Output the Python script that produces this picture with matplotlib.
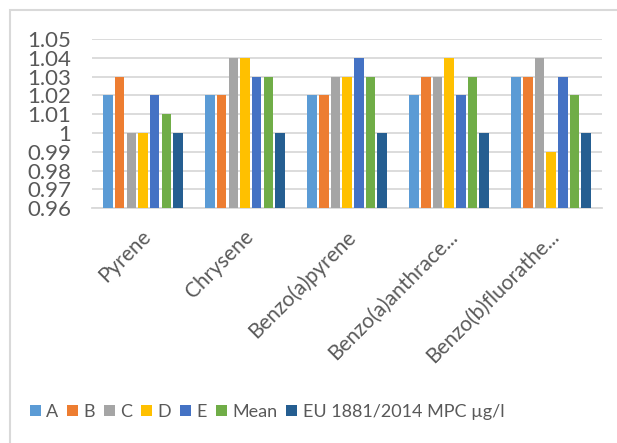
import matplotlib
matplotlib.use("Agg")
import matplotlib.pyplot as plt
import matplotlib.transforms as mtransforms
import numpy as np
from matplotlib.patches import Rectangle

categories = ["Pyrene", "Chrysene", "Benzo(a)pyrene", "Benzo(a)anthrace...", "Benzo(b)fluorathe..."]
series_names = ["A", "B", "C", "D", "E", "Mean", "EU 1881/2014 MPC µg/l"]
A = [1.02, 1.02, 1.02, 1.02, 1.03]
B = [1.03, 1.02, 1.02, 1.03, 1.03]
C = [1.00, 1.04, 1.03, 1.03, 1.04]
D = [1.00, 1.04, 1.03, 1.04, 0.99]
E = [1.02, 1.03, 1.04, 1.02, 1.03]
mean = [1.01, 1.03, 1.03, 1.03, 1.02]
eu_mpc = [1.00, 1.00, 1.00, 1.00, 1.00]
yticks = [0.96, 0.97, 0.98, 0.99, 1.00, 1.01, 1.02, 1.03, 1.04, 1.05]
ytick_labels = ["0.96", "0.97", "0.98", "0.99", "1", "1.01", "1.02", "1.03", "1.04", "1.05"]

colors = ["#5B9BD5", "#ED7D31", "#A5A5A5", "#FFC000", "#4472C4", "#70AD47", "#255E91"]
plt.rcParams["font.family"] = ["Lato", "DejaVu Sans"]

fig = plt.figure(figsize=(6.17, 4.43), dpi=100)
ax = fig.add_axes([0.149, 0.530, 0.827, 0.382])

# chart-area border (left and top edges visible)
fig.add_artist(Rectangle((10 / 617, -0.1), 1.2, (443 - 10) / 443 + 0.1,
                         transform=fig.transFigure, fill=False,
                         edgecolor="#d9d9d9", lw=1.5))

x = np.arange(len(categories))
data = [A, B, C, D, E, mean, eu_mpc]
n = len(data)
group_w = 0.8
slot = group_w / n
for i, (vals, name, col) in enumerate(zip(data, series_names, colors)):
    pos = x - group_w / 2 + slot * (i + 0.5)
    ax.bar(pos, vals, width=slot * 0.82, color=col, label=name, zorder=3)

ax.set_xlim(-0.5, len(categories) - 0.5)
ax.set_ylim(0.96, 1.05)
ax.set_yticks(yticks)
ax.set_yticklabels(ytick_labels)
ax.yaxis.grid(True, color="#d9d9d9", lw=1.3, zorder=0)
ax.set_axisbelow(True)
for s in ["top", "right", "left"]:
    ax.spines[s].set_visible(False)
ax.spines["bottom"].set_color("#d9d9d9")
ax.spines["bottom"].set_linewidth(1.3)
ax.tick_params(axis="both", length=0, labelcolor="#595959")
ax.tick_params(axis="y", labelsize=16, pad=15)
ax.set_xticks(x)
ax.set_xticklabels(categories, rotation=45, ha="right", rotation_mode="anchor")
ax.tick_params(axis="x", labelsize=15, pad=13)
shift = mtransforms.ScaledTranslation(-1.5 / 72, 0, fig.dpi_scale_trans)
for lbl in ax.get_xticklabels():
    lbl.set_transform(lbl.get_transform() + shift)

fig.legend(loc="center", bbox_to_anchor=(0.433, 0.07), ncol=7, frameon=False,
           fontsize=13, handlelength=0.6, handleheight=0.6, handletextpad=0.3,
           columnspacing=0.5, labelcolor="#595959")

fig.savefig("out.png", dpi=100)
